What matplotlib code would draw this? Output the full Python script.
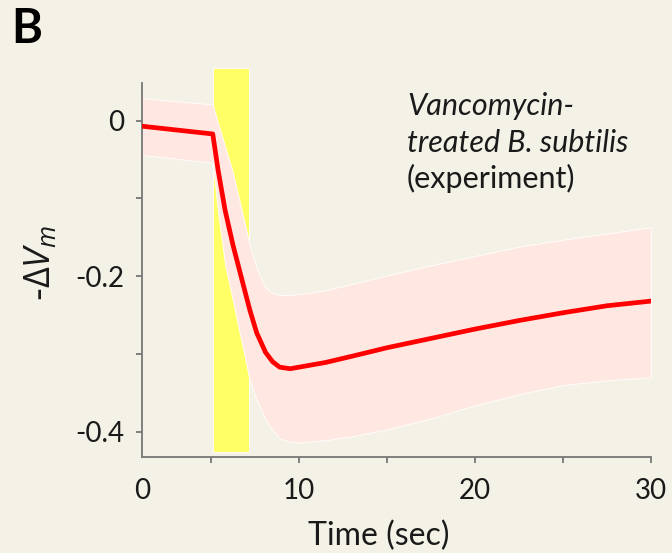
import matplotlib
matplotlib.use("Agg")
import matplotlib.pyplot as plt
from matplotlib.patches import Rectangle

# ---- data ----
time_s = [1.08, 5.1, 5.4, 5.8, 6.25, 6.65, 7.2, 7.6, 8.1, 8.5, 8.9, 9.5, 10,
          11.5, 13, 15, 17.5, 20, 22.5, 25, 27.5, 30]
mean_dv = [-0.007, -0.017, -0.063, -0.115, -0.160, -0.195, -0.243, -0.273,
           -0.298, -0.310, -0.317, -0.319, -0.317, -0.311, -0.303, -0.292,
           -0.280, -0.268, -0.257, -0.247, -0.238, -0.232]
upper_dv = [0.029, 0.021, -0.003, -0.033, -0.067, -0.106, -0.160, -0.190,
            -0.215, -0.222, -0.224, -0.224, -0.223, -0.218, -0.210, -0.199,
            -0.186, -0.174, -0.162, -0.153, -0.145, -0.137]
lower_dv = [-0.044, -0.054, -0.117, -0.185, -0.232, -0.275, -0.334, -0.360,
            -0.384, -0.398, -0.409, -0.413, -0.414, -0.411, -0.406, -0.397,
            -0.383, -0.366, -0.352, -0.340, -0.334, -0.330]
stim_start, stim_end = 5.11, 7.18
stim_top, stim_bottom = 0.068, -0.426
x_ticks = [5, 10, 15, 20, 25, 30]
x_tick_labels = ["", "10", "", "20", "", "30"]
y_ticks = [0, -0.1, -0.2, -0.3, -0.4]
y_tick_labels = ["0", "", "-0.2", "", "-0.4"]

BG = "#f4f2e6"
FONT = "Lato"
TXT = "#1a1a1a"
plt.rcParams["mathtext.fontset"] = "custom"
plt.rcParams["mathtext.it"] = "Open Sans:italic"
plt.rcParams["mathtext.rm"] = "Open Sans"

fig = plt.figure(figsize=(6.72, 5.53), dpi=100, facecolor=BG)
ax = fig.add_axes([0.2113, 0.1730, 0.7575, 0.6775])
ax.set_facecolor(BG)

ax.add_patch(Rectangle((stim_start, stim_bottom), stim_end - stim_start,
                       stim_top - stim_bottom, facecolor="#ffff66",
                       edgecolor="white", linewidth=0.6, zorder=1, clip_on=False))
ax.fill_between(time_s, lower_dv, upper_dv, facecolor="#ffe8e2",
                edgecolor="white", linewidth=0.6, zorder=2)
ax.plot(time_s, mean_dv, color="#ff0000", linewidth=3.4, zorder=3,
        solid_joinstyle="round")

ax.set_xlim(1.08, 30)
ax.set_ylim(-0.433, 0.049)

ax.set_xticks([1.08] + x_ticks)
ax.set_xticklabels(["0"] + x_tick_labels)
ax.xaxis.get_major_ticks()[0].tick1line.set_visible(False)
ax.set_yticks(y_ticks)
ax.set_yticklabels(y_tick_labels)

for s in ["top", "right"]:
    ax.spines[s].set_visible(False)
for s in ["left", "bottom"]:
    ax.spines[s].set_color("#777777")
    ax.spines[s].set_linewidth(1.3)
ax.tick_params(axis="both", direction="out", length=4, width=1.3,
               color="#777777", labelcolor=TXT, labelsize=20)
ax.tick_params(axis="x", pad=11)
ax.tick_params(axis="y", pad=9)
for lab in ax.get_xticklabels() + ax.get_yticklabels():
    lab.set_fontfamily(FONT)

ax.set_xlabel("Time (sec)", fontsize=23, family=FONT, color=TXT)
ax.xaxis.set_label_coords(0.4646, -0.234)
ax.xaxis.label.set_va("baseline")

ax.set_ylabel(r"-$\mathit{\Delta V}_{m}$", fontsize=26, color=TXT)
ax.yaxis.set_label_coords(-0.200, 0.519)
ax.yaxis.label.set_va("center")

ax.text(0.5206, 0.9138, "Vancomycin-", transform=ax.transAxes, fontsize=22,
        family=FONT, style="italic", color=TXT, va="baseline")
ax.text(0.5206, 0.815, "treated B. subtilis", transform=ax.transAxes,
        fontsize=22, family=FONT, style="italic", color=TXT,
        va="baseline")
ax.text(0.5206, 0.719, "(experiment)", transform=ax.transAxes, fontsize=22,
        family=FONT, color=TXT, va="baseline")

fig.text(0.016, 0.922, "B", fontsize=34, fontweight="bold", family=FONT,
         color="black", va="baseline")

fig.savefig("out.png", dpi=100, facecolor=BG)
